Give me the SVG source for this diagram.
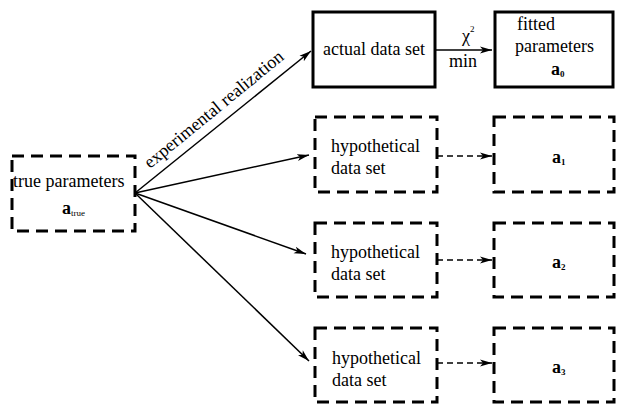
<svg xmlns="http://www.w3.org/2000/svg" width="617" height="404" viewBox="0 0 617 404" font-family="'Liberation Serif', 'DejaVu Serif', serif">
<defs>
<style>
text{font-family:'Liberation Serif','DejaVu Serif',serif;font-size:18px;fill:#000}
.sub{font-size:9px}
.b{font-weight:bold}
.solid{fill:#fff;stroke:#000;stroke-width:3}
.dash{fill:#fff;stroke:#000;stroke-width:3;stroke-dasharray:12 7}
.con{fill:none;stroke:#000;stroke-width:1.5}
.dcon{fill:none;stroke:#000;stroke-width:1.5;stroke-dasharray:6 4}
</style>
<marker id="ah" markerUnits="userSpaceOnUse" markerWidth="14" markerHeight="8" refX="12" refY="4" orient="auto">
<path d="M0,0.5 L12,4 L0,7.5 L3,4 z" fill="#000"/>
</marker>
</defs>
<g id="connectors">
<line class="con" x1="135" y1="193" x2="311" y2="51" marker-end="url(#ah)"/>
<line class="con" x1="135" y1="193" x2="309" y2="155" marker-end="url(#ah)"/>
<line class="con" x1="135" y1="193" x2="306" y2="254" marker-end="url(#ah)"/>
<line class="con" x1="135" y1="193" x2="309" y2="361" marker-end="url(#ah)"/>
<line class="con" x1="435" y1="50" x2="492" y2="50" marker-end="url(#ah)"/>
<line class="dcon" x1="437" y1="156" x2="492" y2="156" marker-end="url(#ah)"/>
<line class="dcon" x1="437" y1="260" x2="492" y2="260" marker-end="url(#ah)"/>
<line class="dcon" x1="437" y1="363" x2="492" y2="363" marker-end="url(#ah)"/>
<text transform="translate(150,169) rotate(-39.3)">experimental realization</text>
<text x="462" y="42">χ<tspan class="sub" dy="-10">2</tspan></text>
<text x="449" y="67">min</text>
</g>
<g id="true-params">
<rect class="dash" x="12" y="156" width="123" height="75"/>
<text x="13" y="187">true parameters</text>
<text x="62" y="214" class="b">a<tspan class="sub" font-weight="normal" dy="2">true</tspan></text>
</g>
<g id="actual-data">
<rect class="solid" x="313" y="12" width="122" height="75"/>
<text x="323" y="55">actual data set</text>
</g>
<g id="fitted">
<rect class="solid" x="495" y="12" width="118" height="75"/>
<text x="517" y="30">fitted</text>
<text x="515" y="52">parameters</text>
<text x="551" y="75" class="b">a<tspan class="sub" dy="2">0</tspan></text>
</g>
<g id="hyp1">
<rect class="dash" x="315" y="117" width="122" height="75"/>
<text x="331" y="152">hypothetical</text>
<text x="331" y="174">data set</text>
</g>
<g id="hyp2">
<rect class="dash" x="315" y="223" width="122" height="74"/>
<text x="331" y="258">hypothetical</text>
<text x="331" y="280">data set</text>
</g>
<g id="hyp3">
<rect class="dash" x="315" y="328" width="122" height="74"/>
<text x="332" y="364">hypothetical</text>
<text x="332" y="386">data set</text>
</g>
<g id="a1">
<rect class="dash" x="494" y="117" width="120" height="75"/>
<text x="552" y="163" class="b">a<tspan class="sub" dy="2">1</tspan></text>
</g>
<g id="a2">
<rect class="dash" x="494" y="223" width="120" height="74"/>
<text x="552" y="268" class="b">a<tspan class="sub" dy="2">2</tspan></text>
</g>
<g id="a3">
<rect class="dash" x="494" y="328" width="120" height="74"/>
<text x="552" y="373" class="b">a<tspan class="sub" dy="2">3</tspan></text>
</g>
</svg>
